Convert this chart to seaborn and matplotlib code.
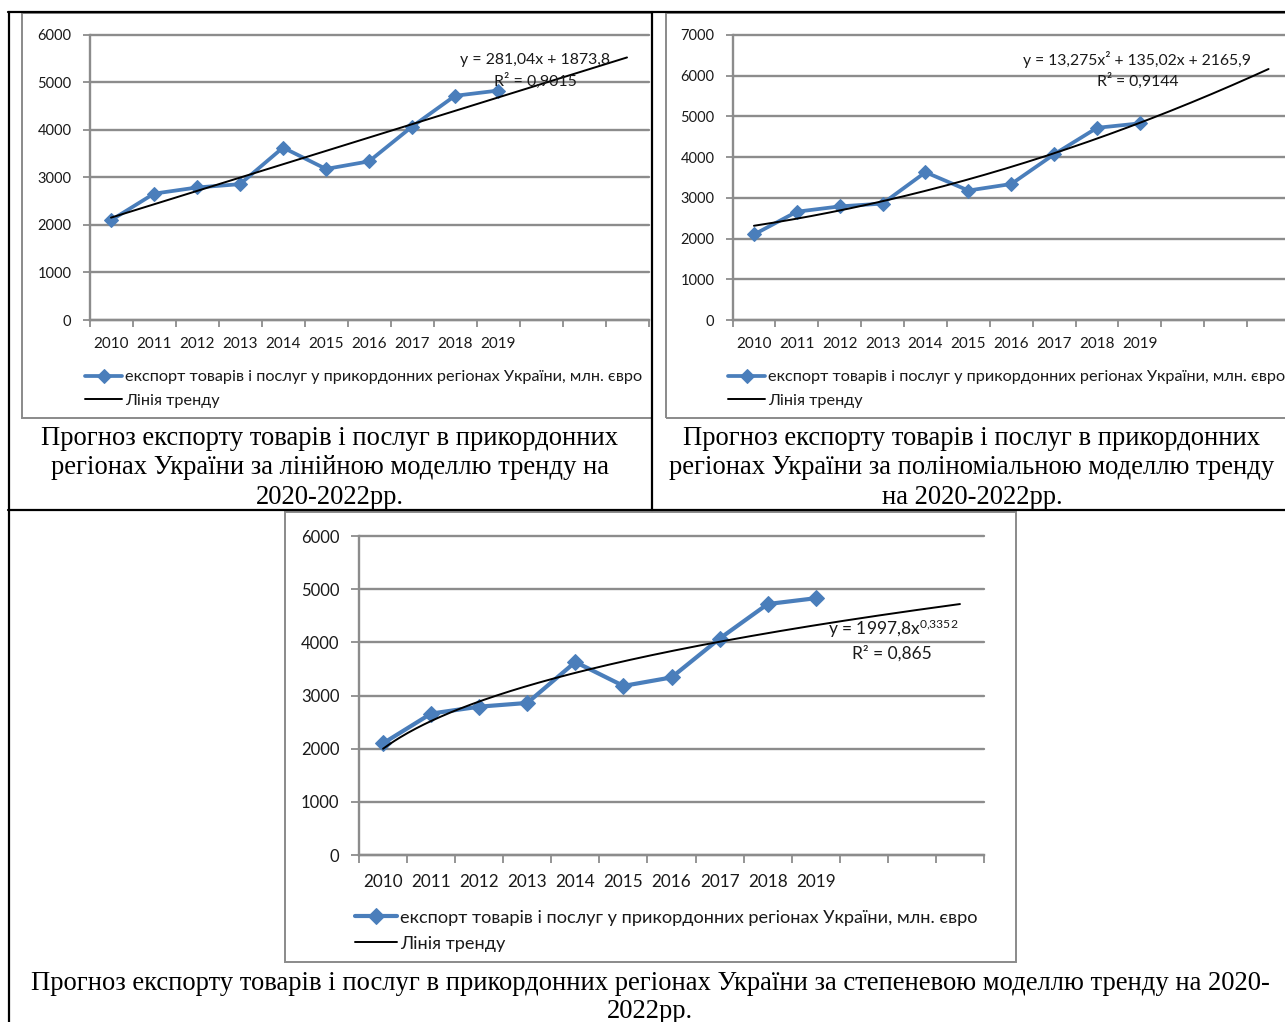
import numpy as np
import pandas as pd
import matplotlib
matplotlib.use("Agg")
import matplotlib.pyplot as plt
from matplotlib.lines import Line2D
from matplotlib.patches import Rectangle
import seaborn as sns

# ---- data -------------------------------------------------------------
years = ["2010", "2011", "2012", "2013", "2014", "2015", "2016", "2017", "2018", "2019"]
export_values = [2100, 2660, 2790, 2860, 3630, 3180, 3340, 4070, 4720, 4830]
n_categories = 13  # 2010-2019 plus the 2020-2022 forecast horizon

series_label = "експорт товарів і послуг у прикордонних регіонах України, млн. євро"
trend_label = "Лінія тренду"

linear_coef = (281.04, 1873.8)
poly_coef = (13.275, 135.02, 2165.9)
power_coef = (1997.8, 0.3352)

linear_eq = ["y = 281,04x + 1873,8", "R² = 0,9015"]
poly_eq = ["y = 13,275x² + 135,02x + 2165,9", "R² = 0,9144"]
power_eq = [r"y = 1997,8x$^{\mathregular{0{,}3352}}$", "R² = 0,865"]

caption_linear = ["Прогноз експорту товарів і послуг в прикордонних",
                  "регіонах України за лінійною моделлю тренду на",
                  "2020-2022рр."]
caption_poly = ["Прогноз експорту товарів і послуг в прикордонних",
                "регіонах України за поліноміальною моделлю тренду",
                "на 2020-2022рр."]
caption_power = ["Прогноз експорту товарів і послуг в прикордонних регіонах України за степеневою моделлю тренду на 2020-",
                 "2022рр."]

# ---- style ------------------------------------------------------------
sns.set_theme(style="white")
CHART_FONT = ["Lato", "Noto Sans", "DejaVu Sans"]
plt.rcParams["font.family"] = CHART_FONT
plt.rcParams["mathtext.fontset"] = "custom"
plt.rcParams["mathtext.rm"] = "Lato"
plt.rcParams["mathtext.it"] = "Lato:italic"
SERIF = ["Liberation Serif", "DejaVu Serif"]

BLUE = "#4A7EBB"
GRID = "#8C8C8C"
TEXT = "#1a1a1a"

W, H = 1285, 1022
fig = plt.figure(figsize=(W / 100, H / 100), dpi=100)
fig.patch.set_facecolor("white")


def fig_xy(x, y):
    return x / W, 1 - y / H


def ax_rect(left, top, right, bottom):
    return [left / W, 1 - bottom / H, (right - left) / W, (bottom - top) / H]


def draw_chart(px_box, ymax, trend_fn, fs, xfs, lfs, efs, legend_pos, legend_gap,
               handle_len, eq_lines, eq_pos, xpad, tick_len, marker_size, line_w):
    ax = fig.add_axes(ax_rect(*px_box))
    ax.set_facecolor("white")
    data = pd.DataFrame({"x": np.arange(1, len(export_values) + 1), "y": export_values})
    tx = np.linspace(1, n_categories, 300)
    trend = pd.DataFrame({"x": tx, "y": trend_fn(tx)})

    sns.lineplot(data=data, x="x", y="y", ax=ax, color=BLUE, lw=line_w, marker="D",
                 markersize=marker_size, markeredgecolor=BLUE, markerfacecolor=BLUE,
                 label=series_label, zorder=3, clip_on=False)
    sns.lineplot(data=trend, x="x", y="y", ax=ax, color="black", lw=1.4,
                 label=trend_label, zorder=4, clip_on=False)

    ax.set_xlim(0.5, n_categories + 0.5)
    ax.set_ylim(0, ymax)
    ax.set_xlabel("")
    ax.set_ylabel("")

    ax.set_yticks(np.arange(0, ymax + 1, 1000))
    ax.set_yticklabels([str(v) for v in range(0, ymax + 1, 1000)])
    ax.yaxis.grid(True, color=GRID, lw=1.7)
    ax.xaxis.grid(False)
    for gl in ax.get_ygridlines():
        gl.set_clip_on(False)
    ax.set_axisbelow(True)

    ax.set_xticks(np.arange(0.5, n_categories + 1, 1.0))
    ax.set_xticklabels([])
    ax.set_xticks(np.arange(1, len(years) + 1), minor=True)
    ax.set_xticklabels(years, minor=True)
    ax.tick_params(axis="x", which="major", direction="out", length=tick_len, width=1.3,
                   color=GRID, bottom=True)
    ax.tick_params(axis="x", which="minor", length=0, pad=xpad, labelsize=xfs, labelcolor=TEXT)
    ax.tick_params(axis="y", direction="out", length=tick_len, width=1.3, color=GRID,
                   left=True, pad=8, labelsize=fs, labelcolor=TEXT)

    for side in ("top", "right"):
        ax.spines[side].set_visible(False)
    for side in ("left", "bottom"):
        ax.spines[side].set_color(GRID)
        ax.spines[side].set_linewidth(1.7)

    handles, labels = ax.get_legend_handles_labels()
    ax.get_legend().remove()
    fig.legend(handles, labels, loc="upper left", bbox_to_anchor=fig_xy(*legend_pos),
               frameon=False, fontsize=lfs, numpoints=1, handlelength=handle_len,
               handletextpad=0.17, borderpad=0, borderaxespad=0,
               labelspacing=legend_gap, labelcolor=TEXT)

    (ex1, ey1), (ex2, ey2) = eq_pos
    fig.text(*fig_xy(ex1, ey1), eq_lines[0], fontsize=efs, color=TEXT, ha="left", va="center")
    fig.text(*fig_xy(ex2, ey2), eq_lines[1], fontsize=efs, color=TEXT, ha="left", va="center")
    return ax


def linear(x):
    return linear_coef[0] * x + linear_coef[1]


def poly(x):
    return poly_coef[0] * x ** 2 + poly_coef[1] * x + poly_coef[2]


def power(x):
    return power_coef[0] * x ** power_coef[1]


# chart frames (light gray) behind everything
for (l, t, r, b) in [(22, 13, 652, 418), (666, 13, 1292, 418), (285, 512, 1016, 962)]:
    fig.patches.append(Rectangle(fig_xy(l, b), (r - l) / W, (b - t) / H,
                                 transform=fig.transFigure, fill=False,
                                 edgecolor="#8a8a8a", lw=1.4, zorder=0))

draw_chart((89.5, 35, 648.5, 320), 6000, linear, 10.5, 11, 11.7, 11.4, (85, 370), 0.55, 2.28,
           linear_eq, ((460, 60), (494, 81)), 12, 5, 7.5, 2.7)
draw_chart((732.5, 35, 1290, 320), 7000, poly, 10.5, 11, 11.7, 11.3, (728, 370), 0.55, 2.28,
           poly_eq, ((1023, 60), (1097, 81)), 12, 5, 7.5, 2.7)
draw_chart((359, 536, 984, 855), 6000, power, 12, 12.3, 13.1, 12.5, (355, 909.5), 0.55, 2.3,
           power_eq, ((828, 629), (852, 653)), 14, 6, 8.5, 3.0)

# captions
CAP_FS = 19.2
for i, line in enumerate(caption_linear):
    fig.text(*fig_xy(330, 438 + 29.5 * i), line, family=SERIF, fontsize=CAP_FS,
             ha="center", va="center", color="black")
for i, line in enumerate(caption_poly):
    fig.text(*fig_xy(972, 438 + 29.5 * i), line, family=SERIF, fontsize=CAP_FS,
             ha="center", va="center", color="black")
for i, line in enumerate(caption_power):
    fig.text(*fig_xy(650, 983 + 29 * i), line, family=SERIF, fontsize=CAP_FS,
             ha="center", va="center", color="black")

# table rules
rules = [((8, 12.5), (1285, 12.5)), ((9, 12), (9, 1022)),
         ((652, 12), (652, 510)), ((8, 510), (1285, 510))]
for (x0, y0), (x1, y1) in rules:
    a = fig_xy(x0, y0)
    b = fig_xy(x1, y1)
    fig.lines.append(Line2D([a[0], b[0]], [a[1], b[1]], transform=fig.transFigure,
                            color="black", lw=1.6, zorder=10))

fig.savefig("out.png", dpi=100, facecolor="white")
